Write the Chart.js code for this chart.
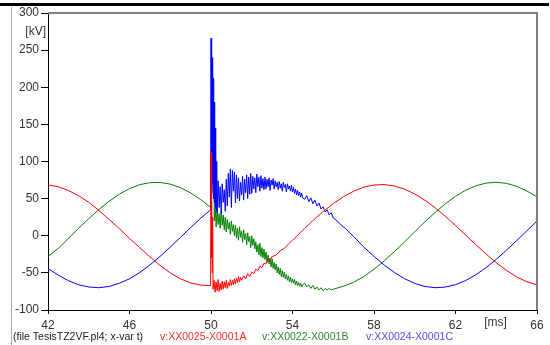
<!DOCTYPE html>
<html>
<head>
<meta charset="utf-8">
<script src="https://cdn.jsdelivr.net/npm/chart.js@4.4.1/dist/chart.umd.min.js"></script>
<style>
html,body{margin:0;padding:0;background:#fff;}
#wrap{position:relative;width:550px;height:345px;}
</style>
</head>
<body>
<div id="wrap"><canvas id="c" width="550" height="345"></canvas></div>
<script>
// ---- data (t in ms, v in kV) ----
const xTicks = [42, 46, 50, 54, 58, 62, 66];
const yTicks = [-100, -50, 0, 50, 100, 150, 200, 250, 300];
const seriesNames = ['v:XX0025-X0001A', 'v:XX0022-X0001B', 'v:XX0024-X0001C'];
const fileLabel = '(file TesisTZ2VF.pl4; x-var t)';

const tRed = [42,42.5,43,43.5,44,44.5,45,45.5,46,46.5,47,47.5,48,48.5,49,49.5,49.9,49.98,
  50.0,50.02,50.04,50.06,50.08,50.1,
  50.15,50.2,50.25,50.3,50.35,50.4,50.45,50.5,50.55,
  50.6,50.65,50.7,50.75,50.8,50.85,50.9,50.95,51.0,
  51.05,51.1,51.15,51.2,51.25,51.3,51.35,51.4,51.45,51.5,
  51.6,51.7,51.8,51.9,52.0,52.1,52.2,52.3,52.4,52.5,
  52.6,52.7,52.8,52.9,53.0,53.2,53.4,53.6,53.8,54.0,54.2,54.4,54.6,54.8,55.0,55.5,56,56.5,57,57.5,58,
  58.5,59,59.5,60,60.5,61,61.5,62,62.5,63,63.5,64,64.5,65,65.5,66];
const vRed = [68.5,66,61,54,45,34,22,9.5,-3.5,-16,-28.5,-40,-50,-58,-63.5,-66.5,-67,-67,
  112,-30,60,-50,25,-72,
  -60,-76,-62,-74,-59,-75,-64,-73,-61,
  -72,-62,-70,-60,-71,-63,-68,-59,-67,
  -60,-66,-58,-65,-57,-63,-55,-62,-56,-60,
  -54,-58,-51,-55,-49,-51,-45,-47,-41,-43,
  -37,-38,-32,-33,-28,-26,-20,-17,-11,-6,-1,5,10,15,20.5,32.5,43.3,52.6,60,65.4,68.3,
  69,67,62.8,56.3,47.8,37.7,26.2,13.8,0.8,-12,-24.6,-36.3,-46.6,-55.3,-62,-66];

const tGreen = [42,42.5,43,43.5,44,44.5,45,45.5,46,46.5,47,47.5,48,48.5,49,49.5,49.9,49.98,
  50.02,50.06,50.1,50.13,50.16,
  50.2,50.25,50.3,50.35,50.4,50.45,50.5,50.55,50.6,50.65,
  50.7,50.75,50.8,50.85,50.9,50.95,51.0,51.05,51.1,51.15,
  51.2,51.25,51.3,51.35,51.4,51.45,51.5,51.55,51.6,51.65,
  51.7,51.75,51.8,51.85,51.9,51.95,52.0,52.05,52.1,52.15,
  52.2,52.25,52.3,52.35,52.4,52.45,52.5,52.55,52.6,52.65,
  52.7,52.75,52.8,52.85,52.9,52.95,53.0,53.05,53.1,53.15,
  53.2,53.25,53.3,53.35,53.4,53.45,53.5,53.55,53.6,53.65,
  53.7,53.75,53.8,53.85,53.9,53.95,54.0,54.05,54.1,54.15,
  54.2,54.25,54.3,54.35,54.4,54.45,54.5,
  54.6,54.7,54.8,54.9,55.0,55.1,55.2,55.3,55.4,55.5,55.6,55.7,55.8,55.9,56.0,
  56.5,57,57.5,58,58.5,59,59.5,60,60.5,61,61.5,62,62.5,63,63.5,64,64.5,65,65.5,66];
const vGreen = [-28,-17,-3.6,10,23,35.4,46.5,56,63.5,68.8,71.5,71.8,69.5,64.8,57.7,48.6,40,38.5,
  110,236,60,180,20,
  45,12,36,15,30,10,33,14,28,8,
  25,5,22,9,18,2,20,6,15,0,
  14,-3,10,-6,12,-2,6,-9,8,-5,
  3,-12,4,-8,-1,-16,0,-13,-4,-18,
  -8,-22,-12,-26,-10,-28,-16,-30,-18,-32,
  -22,-36,-26,-38,-30,-42,-31,-44,-36,-46,
  -38,-50,-42,-52,-44,-55,-47,-56,-49,-58,
  -52,-60,-54,-62,-56,-63,-58,-64,-59,-66,
  -61,-67,-63,-68,-64,-69,-66,
  -64,-69,-66,-71,-67,-72,-69,-73,-70,-74,-71,-73,-71,-73,-72,
  -68,-62.7,-54.9,-45.2,-33.9,-21.4,-8.2,5.4,18.8,31.4,43,53.1,61.3,67.3,70.9,72,70.6,66.6,60.3,52.5];

const tBlue = [42,42.5,43,43.5,44,44.5,45,45.5,46,46.5,47,47.5,48,48.5,49,49.5,49.9,49.98,
  50.0,50.02,50.04,50.06,50.08,50.1,50.12,50.14,50.16,50.18,50.2,50.22,50.24,50.26,50.28,
  50.3,50.35,50.4,50.45,50.5,50.55,50.6,50.65,50.7,50.75,
  50.8,50.85,50.9,50.95,51.0,51.05,51.1,51.15,51.2,51.25,51.3,
  51.35,51.4,51.45,51.5,51.55,51.6,51.65,51.7,51.75,51.8,51.85,51.9,51.95,
  52.0,52.05,52.1,52.15,52.2,52.25,52.3,52.35,52.4,52.45,52.5,52.55,52.6,
  52.65,52.7,52.75,52.8,52.85,52.9,52.95,53.0,53.05,53.1,53.15,53.2,53.25,
  53.3,53.35,53.4,53.45,53.5,53.55,53.6,53.65,53.7,53.75,53.8,53.85,53.9,
  53.95,54.0,54.05,54.1,54.15,54.2,54.25,54.3,54.35,54.4,54.45,54.5,
  54.6,54.7,54.8,54.9,55.0,55.1,55.2,55.3,55.4,55.5,55.6,55.7,55.8,55.9,56.0,
  56.2,56.4,56.6,56.8,57.0,57.5,58,58.5,59,59.5,60,
  60.5,61,61.5,62,62.5,63,63.5,64,64.5,65,65.5,66];
const vBlue = [-44,-53,-60.5,-66,-69,-70,-68.3,-64,-58,-49.5,-39.4,-27.8,-15.3,-2.2,11,23.7,33,35,
  266,80,258,70,240,60,212,50,180,45,145,38,120,34,100,
  31,74,38,66,30,70,45,62,33,76,
  40,84,52,90,38,88,60,86,44,82,50,
  78,47,72,55,80,48,76,58,82,50,79,56,84,
  57,80,63,78,58,83,66,79,60,81,64,77,62,
  79,63,76,66,78,61,75,68,77,63,74,66,72,
  62,73,64,70,60,72,65,69,59,70,63,67,60,
  68,59,65,57,63,55,61,54,59,52,57,51,
  49,54,46,51,43,48,40,44,36,39,32,35,28,31,24,
  20,14,10,4,-1,-15.3,-27.8,-39.4,-49.5,-57.9,-64.2,
  -68.3,-70,-69.1,-65.9,-60.3,-52.5,-42.9,-31.8,-19.5,-6.6,6.6,20];

const colRed = '#ff0000', colGreen = '#008000', colBlue = '#0000ff';

function pts(t, v){ return t.map((x,i)=>({x:x, y:v[i]})); }

const deco = {
  id:'deco',
  afterDraw(chart){
    const ctx = chart.ctx, a = chart.chartArea;
    ctx.save();
    ctx.fillStyle = '#000';
    ctx.fillRect(0, 3, 549, 3);
    ctx.strokeStyle = '#aaaaaa'; ctx.lineWidth = 1;
    ctx.beginPath(); ctx.moveTo(11.5, 7); ctx.lineTo(11.5, 345); ctx.stroke();
    ctx.strokeStyle = '#808080'; ctx.lineWidth = 2;
    ctx.beginPath(); ctx.moveTo(a.left, 13); ctx.lineTo(a.right, 13); ctx.lineTo(a.right, a.bottom); ctx.stroke();
    ctx.fillStyle = '#333';
    ctx.font = '12px "Liberation Sans", Arial, sans-serif';
    ctx.textBaseline = 'middle';
    ctx.textAlign = 'right';
    ctx.fillText('[kV]', 46, 32);
    ctx.textAlign = 'center';
    ctx.fillText('[ms]', 495.5, 323);
    ctx.font = '10.5px "Liberation Sans", Arial, sans-serif';
    ctx.textAlign = 'left';
    ctx.fillStyle = '#222';
    ctx.fillText(fileLabel, 13, 337);
    ctx.fillStyle = '#ff3030'; ctx.fillText(seriesNames[0], 160, 337);
    ctx.fillStyle = '#2e8b2e'; ctx.fillText(seriesNames[1], 262, 337);
    ctx.fillStyle = '#5050ff'; ctx.fillText(seriesNames[2], 366, 337);
    ctx.restore();
  }
};

new Chart(document.getElementById('c'), {
  type:'line',
  data:{
    datasets:[
      {label:seriesNames[0], data:pts(tRed,vRed), borderColor:colRed, borderWidth:1, pointRadius:0, tension:0, order:0},
      {label:seriesNames[1], data:pts(tGreen,vGreen), borderColor:colGreen, borderWidth:1, pointRadius:0, tension:0, order:2},
      {label:seriesNames[2], data:pts(tBlue,vBlue), borderColor:colBlue, borderWidth:1, pointRadius:0, tension:0, order:1}
    ]
  },
  options:{
    responsive:false,
    animation:false,
    devicePixelRatio:1,
    layout:{padding:{top:13, right:13, left:0, bottom:0}},
    plugins:{legend:{display:false}, tooltip:{enabled:false}},
    scales:{
      x:{
        type:'linear', min:42, max:66,
        afterBuildTicks(s){ s.ticks = xTicks.map(v=>({value:v})); },
        afterFit(s){ s.height = 35; },
        grid:{drawOnChartArea:false, drawTicks:true, tickLength:4, color:'#000'},
        border:{display:true, color:'#000', width:1},
        ticks:{color:'#333', padding:4, maxRotation:0, font:{size:12, family:'"Liberation Sans", Arial, sans-serif'}}
      },
      y:{
        type:'linear', min:-100, max:300,
        afterBuildTicks(s){ s.ticks = yTicks.map(v=>({value:v})); },
        afterFit(s){ s.width = 48; },
        grid:{drawOnChartArea:false, drawTicks:true, tickLength:7, color:'#000'},
        border:{display:true, color:'#000', width:1},
        ticks:{color:'#333', padding:2, font:{size:12, family:'"Liberation Sans", Arial, sans-serif'}}
      }
    }
  },
  plugins:[deco]
});
</script>
</body>
</html>
